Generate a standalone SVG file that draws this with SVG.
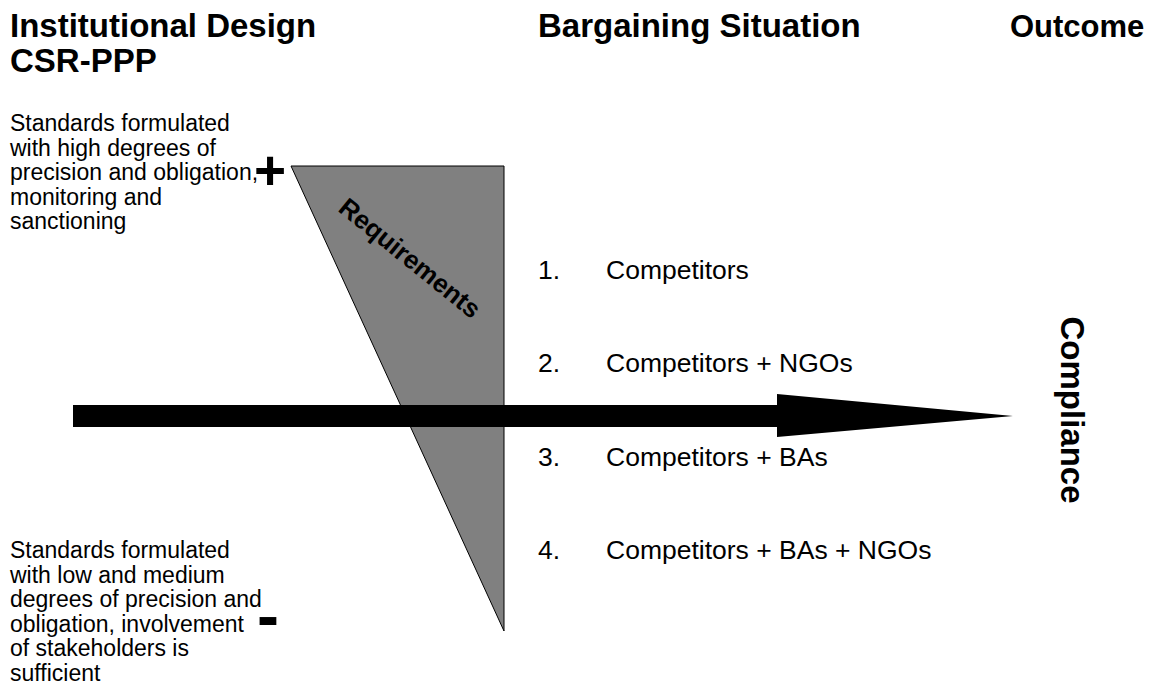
<svg xmlns="http://www.w3.org/2000/svg" width="1151" height="698" viewBox="0 0 1151 698">
  <style>
    .head { font-family: "Liberation Sans", Arial, sans-serif; font-weight: bold; font-size: 33px; fill: #000; }
    .head.narrow { font-size: 31px; }
    .body { font-family: "Liberation Sans", Arial, sans-serif; font-size: 23px; fill: #000; }
    .item { font-family: "Liberation Sans", Arial, sans-serif; font-size: 26.5px; fill: #000; }
    .sign { font-family: "Liberation Sans", Arial, sans-serif; font-weight: bold; fill: #000; }
  </style>
  <rect width="1151" height="698" fill="#fff"/>

  <!-- column headings -->
  <g id="heading-design">
    <text class="head" x="10" y="37">Institutional Design</text>
    <text class="head" x="10" y="72">CSR-PPP</text>
  </g>
  <g id="heading-bargaining">
    <text class="head" x="538" y="37">Bargaining Situation</text>
  </g>
  <g id="heading-outcome">
    <text class="head narrow" x="1010" y="37">Outcome</text>
  </g>

  <!-- upper end of the design scale -->
  <g id="design-high">
    <text class="body" x="10" y="131">Standards formulated</text>
    <text class="body" x="10" y="156">with high degrees of</text>
    <text class="body" x="10" y="180">precision and obligation,</text>
    <text class="body" x="10" y="205">monitoring and</text>
    <text class="body" x="10" y="229">sanctioning</text>
    <text class="sign" x="270" y="189" font-size="55" text-anchor="middle">+</text>
  </g>

  <!-- lower end of the design scale -->
  <g id="design-low">
    <text class="body" x="10" y="558">Standards formulated</text>
    <text class="body" x="10" y="583">with low and medium</text>
    <text class="body" x="10" y="607">degrees of precision and</text>
    <text class="body" x="10" y="632">obligation, involvement</text>
    <text class="body" x="10" y="656">of stakeholders is</text>
    <text class="body" x="10" y="681">sufficient</text>
    <text class="sign" x="268" y="638" font-size="66" text-anchor="middle">-</text>
  </g>

  <!-- requirements wedge -->
  <g id="requirements">
    <polygon points="291,166 504,166 504,631" fill="#808080" stroke="#000" stroke-width="1"/>
    <text class="sign" font-size="26" text-anchor="middle" transform="translate(410,258) rotate(39)" y="9">Requirements</text>
  </g>

  <!-- bargaining constellations -->
  <g id="situations">
    <text class="item" x="538" y="279">1.</text>
    <text class="item" x="606" y="279">Competitors</text>
    <text class="item" x="538" y="372">2.</text>
    <text class="item" x="606" y="372">Competitors + NGOs</text>
    <text class="item" x="538" y="466">3.</text>
    <text class="item" x="606" y="466">Competitors + BAs</text>
    <text class="item" x="538" y="559">4.</text>
    <text class="item" x="606" y="559">Competitors + BAs + NGOs</text>
  </g>

  <!-- main arrow towards the outcome -->
  <g id="connectors">
    <polygon points="73,405 777,405 777,394 1013,416 777,437 777,427 73,427" fill="#000"/>
  </g>

  <g id="compliance">
    <text class="head" text-anchor="middle" transform="translate(1061,410) rotate(90)">Compliance</text>
  </g>
</svg>
